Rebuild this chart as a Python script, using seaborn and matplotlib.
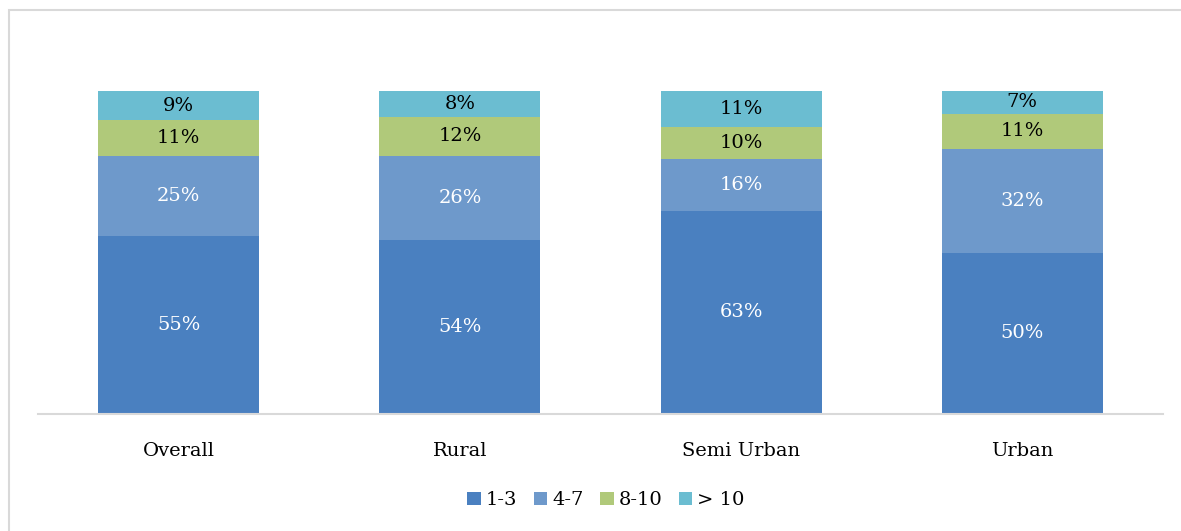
from matplotlib import pyplot as plt
from matplotlib.patches import Rectangle, Patch
import seaborn as sns
import numpy as np

categories = ["Overall", "Rural", "Semi Urban", "Urban"]
series_names = ["1-3", "4-7", "8-10", "> 10"]
share_1_3 = [55, 54, 63, 50]
share_4_7 = [25, 26, 16, 32]
share_8_10 = [11, 12, 10, 11]
share_over_10 = [9, 8, 11, 7]

colors = ["#4a80c0", "#6e99cb", "#b0c97a", "#6bbdd1"]
label_colors = ["white", "white", "black", "black"]


def main():
    sns.set_style("white")
    plt.rcParams["font.family"] = ["DejaVu Serif"]
    plt.rcParams["text.color"] = "black"
    plt.rcParams["xtick.color"] = "black"

    fig = plt.figure(figsize=(11.81, 5.31), dpi=100)
    ax = fig.add_axes([38 / 1181, 1 - 414 / 531, 1125 / 1181, 323 / 531])

    series = [share_1_3, share_4_7, share_8_10, share_over_10]
    bottom = np.zeros(len(categories))
    for name, vals, col, lc in zip(series_names, series, colors, label_colors):
        sns.barplot(x=categories, y=vals, bottom=bottom, color=col, width=0.572,
                    errorbar=None, saturation=1, linewidth=0, ax=ax)
        c = ax.containers[-1]
        ax.bar_label(c, labels=[f"{v}%" for v in vals], label_type="center",
                     color=lc, fontsize=14)
        bottom = bottom + np.array(vals)

    ax.set_xlim(-0.5, 3.5)
    ax.set_ylim(0, 100)
    ax.set_yticks([])
    ax.set_xlabel("")
    ax.set_ylabel("")
    for s in ["top", "right", "left"]:
        ax.spines[s].set_visible(False)
    ax.spines["bottom"].set_color("#d9d9d9")
    ax.spines["bottom"].set_linewidth(1.5)
    ax.tick_params(axis="x", length=0, labelsize=14, pad=20, labelcolor="black")

    handles = [Patch(facecolor=c, edgecolor="none") for c in colors]
    fig.legend(handles, series_names, loc="center", bbox_to_anchor=(0.513, 0.058),
               ncol=4, frameon=False, fontsize=14, handlelength=0.7,
               handleheight=0.7, handletextpad=0.25, columnspacing=0.85)

    fig.patches.append(Rectangle((9 / 1181, -0.05), 1.1, 1.05 - 10 / 531,
                                 transform=fig.transFigure, fill=False,
                                 edgecolor="#d9d9d9", linewidth=1.5))

    plt.savefig("out.png", dpi=100)


if __name__ == "__main__":
    main()
